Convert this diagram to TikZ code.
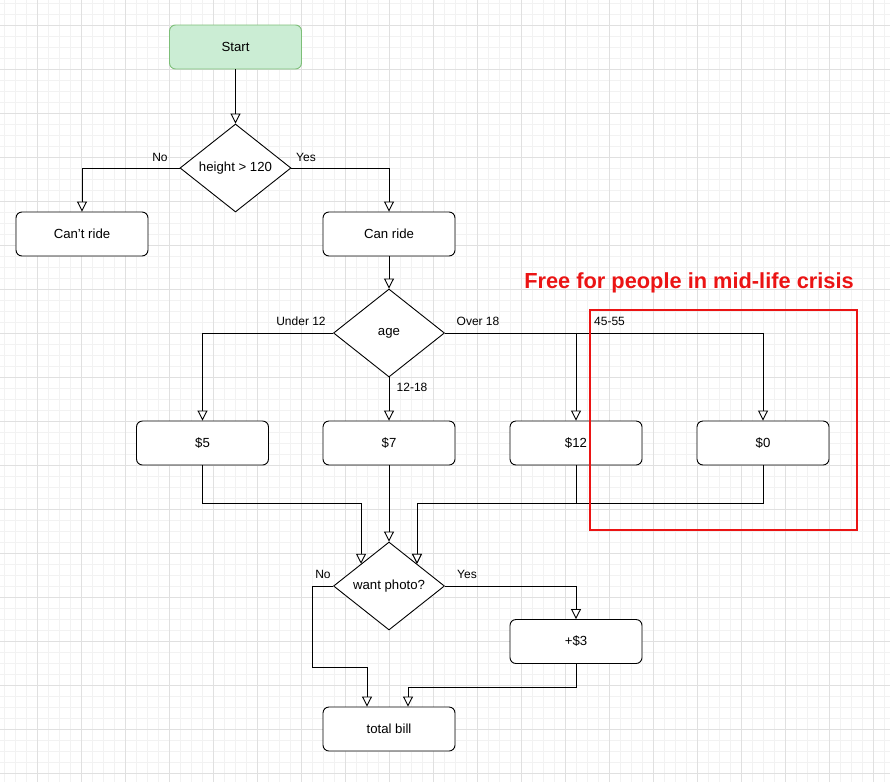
\documentclass[tikz,border=0pt]{standalone}
\usepackage{fontspec}
\setmainfont{Liberation Sans}
\usetikzlibrary{arrows.meta,shapes.geometric,calc}
\definecolor{gridminor}{RGB}{242,242,242}
\definecolor{gridmajor}{RGB}{224,224,224}
\definecolor{startfill}{RGB}{203,237,212}
\definecolor{startdraw}{RGB}{125,190,120}
\definecolor{crisisred}{RGB}{235,20,20}
\newcommand\ndfont{\fontsize{13.2}{15}\selectfont}
\newcommand\lbfont{\fontsize{12}{14}\selectfont}
\begin{document}
\begin{tikzpicture}[x=1pt,y=-1pt,
  box/.style={draw, rounded corners=6pt, minimum width=132pt, minimum height=44pt, fill=white, font=\ndfont, line width=0.9pt, inner sep=0pt},
  dec/.style={draw, diamond, minimum width=111pt, minimum height=88pt, inner sep=0pt, fill=white, font=\ndfont, line width=0.9pt},
  arr/.style={draw, line width=0.9pt, -{Triangle[length=10pt,width=10pt,fill=white,line width=0.9pt]}},
  lbl/.style={font=\lbfont, inner sep=0pt}]
\fill[white] (0,0) rectangle (890,782);
\useasboundingbox (0,0) rectangle (890,782);
% grid
\foreach \x in {4,15,...,890} \draw[gridminor, line width=0.8pt] (\x,0) -- (\x,782);
\foreach \y in {3,14,...,782} \draw[gridminor, line width=0.8pt] (0,\y) -- (890,\y);
\foreach \x in {37,81,...,890} \draw[gridmajor, line width=0.8pt] (\x,0) -- (\x,782);
\foreach \y in {25,69,...,782} \draw[gridmajor, line width=0.8pt] (0,\y) -- (890,\y);

% nodes
\node[box, fill=startfill, draw=startdraw] (start) at (235.5,47) {Start};
\node[dec] (h) at (235.5,168) {height > 120};
\node[box] (cant) at (82,234) {Can't ride};
\node[box] (can) at (389,234) {Can ride};
\node[dec] (age) at (389,333) {age};
\node[box] (p5) at (202.5,443) {\$5};
\node[box] (p7) at (389,443) {\$7};
\node[box] (p12) at (576,443) {\$12};
\node[box] (p0) at (763,443) {\$0};
\node[dec] (wp) at (389,586) {want photo?};
\node[box] (p3) at (576,641.5) {+\$3};
\node[box] (tb) at (389,729) {total bill};

\coordinate (tbA) at ($(tb.north)+(-22,0)$);
\coordinate (tbB) at ($(tb.north)+(19,0)$);

% connectors
\draw[arr] (start.south) -- (h.north);
\draw[arr] (h.west) -| (cant.north);
\draw[arr] (h.east) -| (can.north);
\draw[arr] (can.south) -- (age.north);
\draw[arr] (age.west) -| (p5.north);
\draw[arr] (age.south) -- (p7.north);
\draw[arr] (age.east) -| (p12.north);
\draw[arr] (age.east) -| (p0.north);
\draw[arr] (p5.south) -- ++(0,38) -| (wp.north west);
\draw[arr] (p7.south) -- (wp.north);
\draw[arr] (p12.south) -- ++(0,38) -| (wp.north east);
\draw[arr] (p0.south) -- ++(0,38) -| (wp.north east);
\draw[arr] (wp.east) -| (p3.north);
\draw[arr] (wp.west) -- ++(-21,0) |- ($(tbA)+(0,-39)$) -- (tbA);
\draw[arr] (p3.south) -- ++(0,23) -| (tbB);

% labels
\node[lbl] (lno1) at (160,157) {No};
\node[lbl] (lyes1) at (306,157) {Yes};
\node[lbl] (lu12) at (301,321) {Under 12};
\node[lbl] (lo18) at (478,321) {Over 18};
\node[lbl, anchor=west] (l4555) at (594,321) {45-55};
\node[lbl] (l1218) at (412,387) {12-18};
\node[lbl] (lno2) at (323,574) {No};
\node[lbl] (lyes2) at (467,574) {Yes};

% annotation
\node[text=crisisred, font=\bfseries\fontsize{21.8}{26}\selectfont, inner sep=0pt] (title) at (689,283) {Free for people in mid-life crisis};
\node[draw=crisisred, line width=2pt, minimum width=267pt, minimum height=220pt, inner sep=0pt, anchor=north west] (crisis) at (589,309) {};
\end{tikzpicture}
\end{document}
